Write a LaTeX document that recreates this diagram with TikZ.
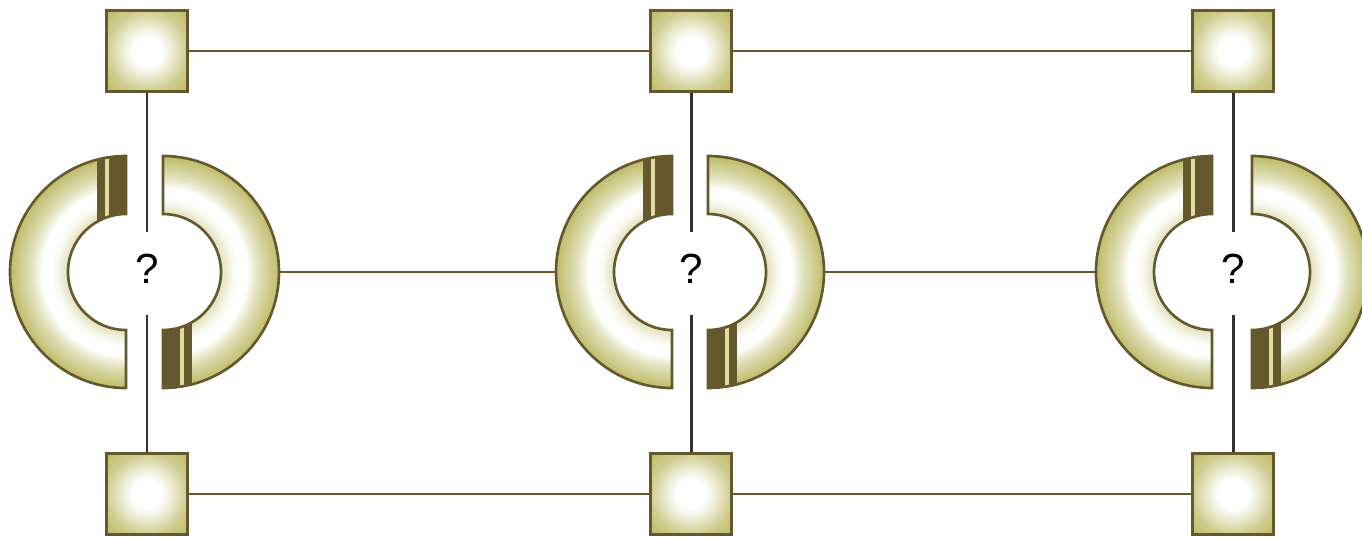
\documentclass[tikz,border=0pt]{standalone}
\usepackage{fontspec}
\setsansfont{Liberation Sans}
\usepackage{tikz}
\usetikzlibrary{calc}
\usepackage{xcolor}
\definecolor{olivefill}{RGB}{190,188,104}
\definecolor{oliveline}{RGB}{101,88,45}
\definecolor{stripec}{RGB}{224,220,162}
\definecolor{wiregray}{RGB}{50,50,50}
\pgfdeclareradialshading{boxglow}{\pgfpoint{0bp}{0bp}}{color(0bp)=(white); color(9bp)=(white); color(18bp)=(olivefill!40); color(25bp)=(olivefill!75); color(35bp)=(olivefill); color(50bp)=(olivefill)}
\pgfdeclareradialshading{ringglow}{\pgfpoint{0bp}{0bp}}{color(0bp)=(olivefill!45); color(12.5bp)=(olivefill!45); color(15bp)=(olivefill!10); color(16.5bp)=(white); color(18bp)=(white); color(20.5bp)=(olivefill!45); color(25bp)=(olivefill); color(50bp)=(olivefill)}
% half ring, #1 = centre of the cut, opening to the left
\newcommand{\halfring}[1]{%
  \begin{scope}
    \clip #1 ++(0,116) arc[start angle=90, end angle=270, radius=116] -- ++(0,58)
      arc[start angle=270, end angle=90, radius=58] -- cycle;
    \shade[shading=ringglow] #1 circle[radius=116];
    \fill[oliveline] #1 ++(-29,0) rectangle ++(29,120);
    \fill[stripec]   #1 ++(-21,0) rectangle ++(4,120);
  \end{scope}
  \draw[ringline] #1 ++(0,116) arc[start angle=90, end angle=270, radius=116] -- ++(0,58)
    arc[start angle=270, end angle=90, radius=58] -- cycle;
}
\tikzset{
  sqbox/.style   ={draw=oliveline, shade, shading=boxglow, minimum size=1.62cm, inner sep=0pt, line width=1.9pt},
  wire/.style    ={oliveline, line width=1.3pt},
  spoke/.style   ={wiregray, line width=1.7pt},
  ringline/.style={oliveline, line width=1.5pt},
  qmark/.style   ={font=\sffamily\fontsize{24}{24}\selectfont, inner sep=0pt},
}
\begin{document}
\begin{tikzpicture}[x=0.02cm, y=0.02cm]
  \useasboundingbox (0,0) rectangle (1362,-538);

  % --- left ---
  \halfring{(126,-272)}
  \begin{scope}[rotate around={180:(163,-272)}]
    \halfring{(163,-272)}
  \end{scope}
  \node[sqbox] (tl) at (147,-51)  {};
  \node[sqbox] (bl) at (147,-494) {};
  \node[qmark] (ql) at (147,-269) {?};
  \coordinate (lup) at (147,-232);
  \coordinate (ldn) at (147,-315);
  \coordinate (lE)  at (279,-272);
  \draw[spoke] (tl) -- (lup);
  \draw[spoke] (ldn) -- (bl);

  % --- middle ---
  \halfring{(672,-272)}
  \begin{scope}[rotate around={180:(708,-272)}]
    \halfring{(708,-272)}
  \end{scope}
  \node[sqbox] (tm) at (691,-51)  {};
  \node[sqbox] (bm) at (691,-494) {};
  \node[qmark] (qm) at (691,-269) {?};
  \coordinate (mup) at (691,-232);
  \coordinate (mdn) at (691,-315);
  \coordinate (mW)  at (556,-272);
  \coordinate (mE)  at (824,-272);
  \draw[spoke] (tm) -- (mup);
  \draw[spoke] (mdn) -- (bm);

  % --- right ---
  \halfring{(1212,-272)}
  \begin{scope}[rotate around={180:(1252,-272)}]
    \halfring{(1252,-272)}
  \end{scope}
  \node[sqbox] (tr) at (1233,-51)  {};
  \node[sqbox] (br) at (1233,-494) {};
  \node[qmark] (qr) at (1233,-269) {?};
  \coordinate (rup) at (1233,-232);
  \coordinate (rdn) at (1233,-315);
  \coordinate (rW)  at (1096,-272);
  \draw[spoke] (tr) -- (rup);
  \draw[spoke] (rdn) -- (br);

  % --- links ---
  \draw[wire] (tl) -- (tm);
  \draw[wire] (tm) -- (tr);
  \draw[wire] (bl) -- (bm);
  \draw[wire] (bm) -- (br);
  \draw[wire] (lE) -- (mW);
  \draw[wire] (mE) -- (rW);
\end{tikzpicture}
\end{document}
